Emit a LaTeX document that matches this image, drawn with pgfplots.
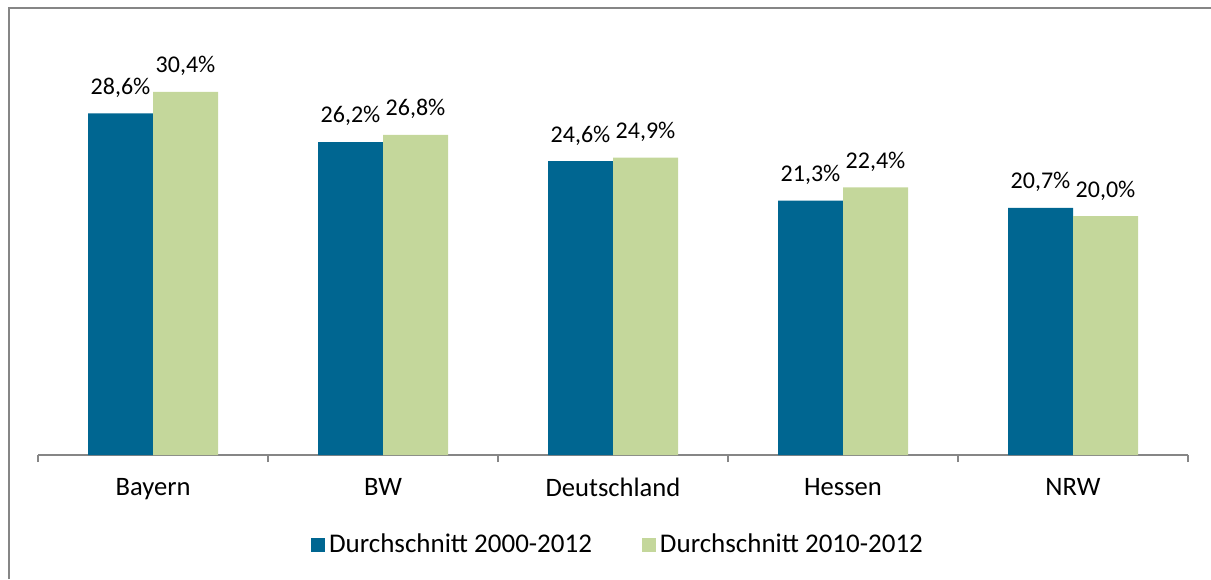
\documentclass[border=0pt]{standalone}
\usepackage{pgfplots}
\pgfplotsset{compat=1.18}
\usepackage{fontspec}
\setmainfont{Carlito}
\definecolor{cblue}{RGB}{0,102,145}
\definecolor{cgreen}{RGB}{196,215,155}
\definecolor{cgrey}{RGB}{134,134,134}
\begin{document}
\begin{tikzpicture}[font=\fontsize{13.3}{16}\selectfont]
\useasboundingbox (0,0) rectangle (605.5pt,289.5pt);
\draw[cgrey,line width=1pt] (4.5pt,0) -- (4.5pt,285.5pt) -- (606pt,285.5pt);
\begin{axis}[
  at={(19pt,62pt)}, anchor=south west,
  scale only axis, width=575pt, height=209pt,
  ybar=0pt, bar width=32.5pt,
  xmin=-0.5, xmax=4.5, ymin=0, ymax=35,
  axis y line=none,
  axis x line*=bottom,
  x axis line style={cgrey,line width=0.75pt,-},
  xtick={0,1,2,3,4},
  xticklabels={Bayern,BW,Deutschland,Hessen,NRW},
  major tick length=0pt,
  minor xtick={-0.5,0.5,1.5,2.5,3.5,4.5},
  minor tick length=3.5pt,
  tick align=outside,
  minor tick style={cgrey,line width=0.75pt},
  xticklabel style={font=\fontsize{13.3}{16}\selectfont, yshift=-8pt},
  /pgf/number format/assume math mode=true,
  nodes near coords={\pgfmathprintnumber[fixed,fixed zerofill,precision=1,use comma]{\pgfplotspointmeta}\%},
  every node near coord/.append style={font=\fontsize{12}{14}\selectfont, yshift=4.5pt, black},
  legend style={at={(0.5,-0.215)}, anchor=center, xshift=3pt, legend columns=2, draw=none,
    font=\fontsize{13.5}{16}\selectfont,
    /tikz/every odd column/.append style={column sep=0pt},
    /tikz/every even column/.append style={column sep=23pt}},
  legend image code/.code={\fill[#1] (0pt,-3.5pt) rectangle (7pt,3.5pt);},
]
\addplot[fill=cblue, draw=none] coordinates {(0,28.6) (1,26.2) (2,24.6) (3,21.3) (4,20.7)};
\addplot[fill=cgreen, draw=none] coordinates {(0,30.4) (1,26.8) (2,24.9) (3,22.4) (4,20.0)};
\legend{Durchschnitt 2000-2012, Durchschnitt 2010-2012}
\end{axis}
\end{tikzpicture}
\end{document}
